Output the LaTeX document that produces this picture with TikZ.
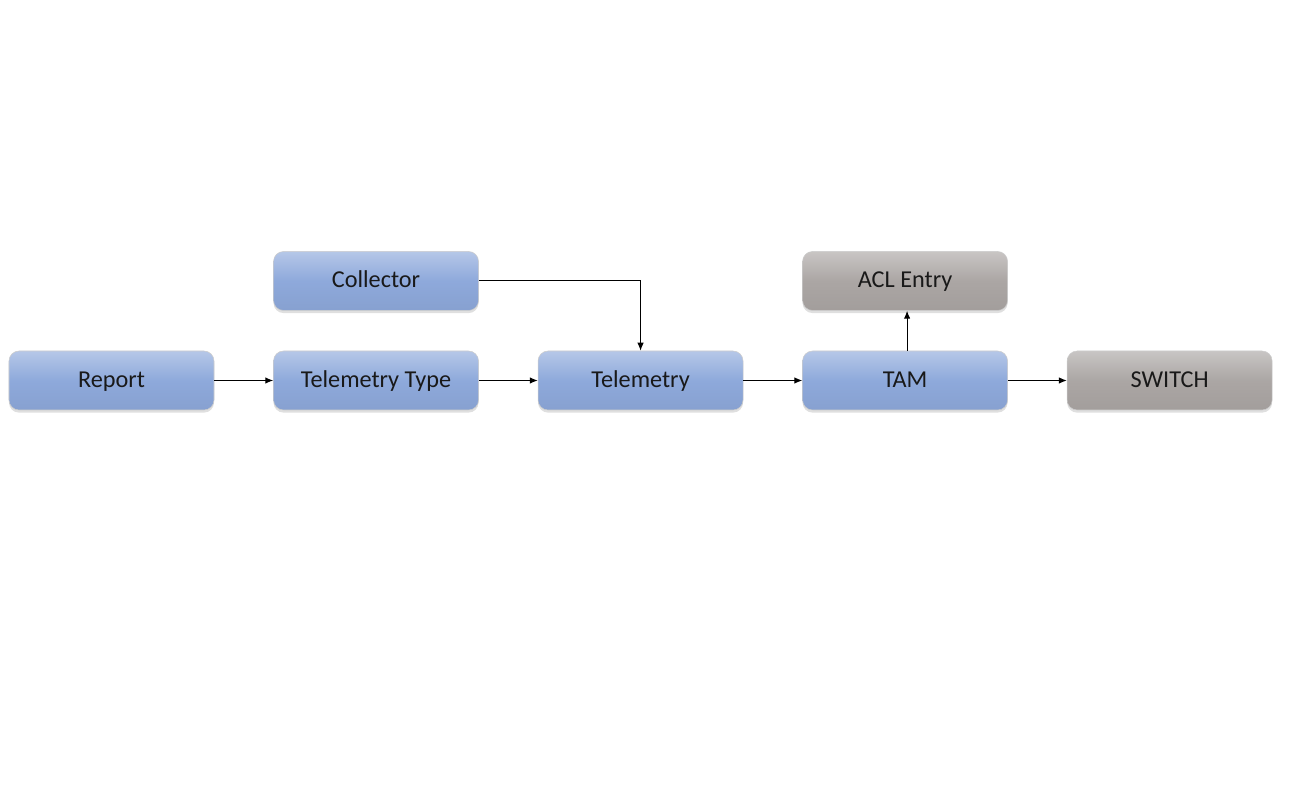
\documentclass[tikz,border=0pt]{standalone}
\usepackage{fontspec}
\setmainfont{Carlito}
\usetikzlibrary{positioning,arrows.meta,shadows}
\definecolor{boxblue}{HTML}{8EA9DB}
\definecolor{boxgrey}{HTML}{ABA6A4}

\begin{document}
\begin{tikzpicture}
            \tikzset{
                blk/.style={rounded corners=0.2cm,minimum width=4.1cm,minimum height=1.18cm,
                    font=\fontsize{13.8}{15}\selectfont,text=black!90,draw=white!80!black,line width=0.3pt,
                    text height=0.8em,text depth=0.03em,
                    drop shadow={opacity=0.25,shadow xshift=0pt,shadow yshift=-1.5pt}},
                blubox/.style={blk,top color=boxblue!65!white,bottom color=boxblue!95!black,middle color=boxblue},
                grybox/.style={blk,top color=boxgrey!65!white,bottom color=boxgrey!95!black,middle color=boxgrey},
                link/.style={-{Latex[length=1.6mm,width=1.3mm]},line width=0.6pt},}
            \useasboundingbox (0,0) rectangle (25.78,16.02);
            \node [blubox] (report) at (2.23,8.41) {Report};
            \node [blubox,right=1.18cm of report] (ttype) {Telemetry Type};
            \node [blubox,right=1.18cm of ttype] (telem) {Telemetry};
            \node [blubox,right=1.18cm of telem] (tam) {TAM};
            \node [grybox,right=1.18cm of tam] (switch) {SWITCH};
            \node [blubox,above=0.8cm of ttype] (collector) {Collector};
            \node [grybox,above=0.8cm of tam] (acl) {ACL Entry};
            % connectors
            \draw [link] (report) -- (ttype);
            \draw [link] (ttype) -- (telem);
            \draw [link] (telem) -- (tam);
            \draw [link] (tam) -- (switch);
            \draw [link] (collector.east) -| (telem.north);
            \draw [link] ([xshift=0.04cm]tam.north) -- ([xshift=0.04cm]acl.south);
        \end{tikzpicture}
\end{document}
